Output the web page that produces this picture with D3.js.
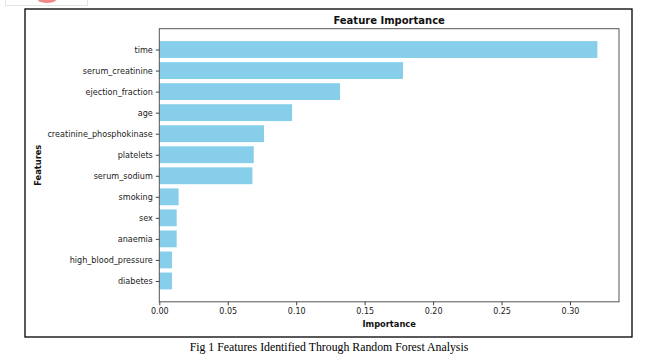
<!DOCTYPE html>
<html><head><meta charset="utf-8">
<script src="https://cdn.jsdelivr.net/npm/d3@7"></script>
<style>body{margin:0;background:#fff}svg{display:block}</style>
</head><body>
<script>
const features = ["time","serum_creatinine","ejection_fraction","age","creatinine_phosphokinase","platelets","serum_sodium","smoking","sex","anaemia","high_blood_pressure","diabetes"];
const importance = [0.320,0.178,0.132,0.097,0.0765,0.069,0.068,0.0141,0.0127,0.0127,0.0093,0.0093];
const xTicks = [0,0.05,0.10,0.15,0.20,0.25,0.30];
const titleText = "Feature Importance";
const xLabel = "Importance";
const yLabel = "Features";
const caption = "Fig 1 Features Identified Through Random Forest Analysis";

const W=650,H=360;
const svg=d3.select("body").append("svg").attr("width",W).attr("height",H);

// small logo fragment top-left
svg.append("rect").attr("x",5.5).attr("y",-2).attr("width",82).attr("height",7.5).attr("fill","#fff").attr("stroke","#e4e4e4");
svg.append("ellipse").attr("cx",47).attr("cy",0).attr("rx",9).attr("ry",3).attr("fill","#f08a8a");

// outer frame
svg.append("rect").attr("x",25).attr("y",9).attr("width",607).attr("height",328).attr("fill","none").attr("stroke","#000").attr("stroke-width",1.3);

const L=159.3,R=619,T=28.7,B=301.8;
const x=d3.scaleLinear().domain([0,0.3]).range([L,L+0.3*1369]);
const n=features.length;
const y=d3.scaleLinear().domain([-0.99,n-1+0.99]).range([T,B]);

const g=svg.append("g");
g.selectAll("rect.bar").data(features).join("rect").attr("class","bar")
 .attr("x",x(0)).attr("y",(d,i)=>y(i-0.4)).attr("height",(d,i)=>y(i+0.4)-y(i-0.4))
 .attr("width",(d,i)=>x(importance[i])-x(0)).attr("fill","#87CEEB");

// spines
g.append("rect").attr("x",L).attr("y",T).attr("width",R-L).attr("height",B-T).attr("fill","none").attr("stroke","#555").attr("stroke-width",1);

const font="DejaVu Sans";
const xa=d3.axisBottom(x).tickValues(xTicks).tickFormat(d3.format(".2f")).tickSize(3.5).tickPadding(3);
const xg=svg.append("g").attr("transform",`translate(0,${B})`).call(xa);
xg.select(".domain").remove();
xg.selectAll("line").attr("stroke","#444");
xg.selectAll("text").attr("font-family",font).attr("font-size",8).attr("fill","#222");

const ya=d3.axisLeft(d3.scalePoint().domain(features).range([y(0),y(n-1)])).tickSize(3.5).tickPadding(3);
const yg=svg.append("g").attr("transform",`translate(${L},0)`).call(ya);
yg.select(".domain").remove();
yg.selectAll("line").attr("stroke","#444");
yg.selectAll("text").attr("font-family",font).attr("font-size",8.1).attr("fill","#222");

svg.append("text").attr("x",(L+R)/2).attr("y",24).attr("text-anchor","middle").attr("font-family",font).attr("font-weight","bold").attr("font-size",10).attr("fill","#111").text(titleText);
svg.append("text").attr("x",(L+R)/2).attr("y",327).attr("text-anchor","middle").attr("font-family",font).attr("font-weight","bold").attr("font-size",8.3).attr("fill","#111").text(xLabel);
svg.append("text").attr("transform",`translate(41,${(T+B)/2}) rotate(-90)`).attr("text-anchor","middle").attr("font-family",font).attr("font-weight","bold").attr("font-size",8.3).attr("fill","#111").text(yLabel);

svg.append("text").attr("x",329).attr("y",351).attr("text-anchor","middle").attr("font-family","Liberation Serif").attr("font-size",11.8).attr("fill","#000").text(caption);
</script>
</body></html>
